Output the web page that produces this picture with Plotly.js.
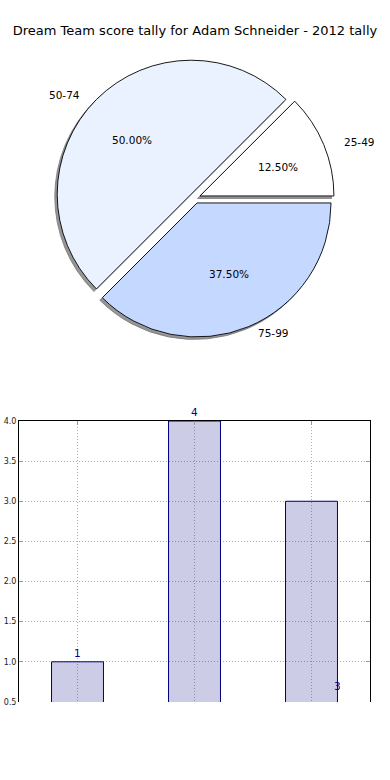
<!DOCTYPE html>
<html>
<head>
<meta charset="utf-8">
<script src="https://cdn.plot.ly/plotly-3.0.1.min.js"></script>
<style>html,body{margin:0;padding:0;background:#fff;}#chart{width:390px;height:780px;}</style>
</head>
<body>
<div id="chart"></div>
<script>
// ---- data ----
var categories = ['25-49', '50-74', '75-99'];
var counts = [1, 4, 3];
var sliceColors = ['#ffffff', '#eaf1ff', '#c5d8ff'];
var chartTitle = 'Dream Team score tally for Adam Schneider - 2012 tally';

// ---- geometry helpers (pixels) ----
var W = 390, H = 780;
var FONT = 'DejaVu Sans, sans-serif';
var cx = 195, cy = 198, rPie = 134, pull = 0.04;
var rx = 140, ry = 128;
var side = 2 * rPie * (1 + pull);
function px(x) { return x / W; }
function py(y) { return 1 - y / H; }

var total = counts.reduce(function (a, b) { return a + b; }, 0);
var pulls = counts.map(function () { return pull; });
// first slice starts at 3 o'clock and runs counterclockwise
var rot = 90 - 360 * counts[0] / total;

var pieDomain = {x: [px(cx - side / 2), px(cx + side / 2)], y: [py(cy + side / 2), py(cy - side / 2)]};
var sh = 2.5;
var shadowDomain = {x: [px(cx - side / 2 - sh), px(cx + side / 2 - sh)], y: [py(cy + side / 2 + sh), py(cy - side / 2 + sh)]};

var shadow = {
  type: 'pie', values: counts, labels: categories, sort: false,
  direction: 'counterclockwise', rotation: rot, pull: pulls,
  marker: {colors: counts.map(function () { return 'rgb(150,150,150)'; }), line: {color: 'rgb(120,120,120)', width: 0.8}},
  textinfo: 'none', hoverinfo: 'skip', showlegend: false, domain: shadowDomain
};
var pie = {
  type: 'pie', values: counts, labels: categories, sort: false,
  direction: 'counterclockwise', rotation: rot, pull: pulls,
  marker: {colors: sliceColors, line: {color: '#000000', width: 0.9}},
  textinfo: 'none', hoverinfo: 'label+percent', showlegend: false, domain: pieDomain
};

var annotations = [];
var cum = 0;
counts.forEach(function (v, i) {
  var th = 2 * Math.PI * (cum + v / 2) / total;
  cum += v;
  var c = Math.cos(th), s = Math.sin(th);
  var lx = cx + (1.1 + pull) * rx * c, ly = cy - (1.1 + pull) * ry * s;
  annotations.push({xref: 'paper', yref: 'paper', x: px(lx), y: py(ly), text: categories[i],
    showarrow: false, xanchor: c < 0 ? 'right' : 'left', yanchor: 'middle',
    font: {family: FONT, size: 10.5, color: '#000'}});
  var tx = cx + (0.6 + pull) * rx * c, ty = cy - (0.6 + pull) * ry * s;
  annotations.push({xref: 'paper', yref: 'paper', x: px(tx), y: py(ty),
    text: (v / total * 100).toFixed(2) + '%', showarrow: false, xanchor: 'center', yanchor: 'middle',
    font: {family: FONT, size: 10.5, color: '#000'}});
});

// bar value labels
var barLabelFont = {family: FONT, size: 10.5, color: '#00008b'};
annotations.push({xref: 'x', yref: 'y', x: categories[0], y: counts[0], text: String(counts[0]), showarrow: false, yanchor: 'bottom', yshift: 1, font: barLabelFont});
annotations.push({xref: 'x', yref: 'y', x: categories[1], y: counts[1], text: String(counts[1]), showarrow: false, yanchor: 'bottom', yshift: 1, font: barLabelFont});
annotations.push({xref: 'x', yref: 'y', x: 2.226, y: 0.7, text: String(counts[2]), showarrow: false, xanchor: 'center', yanchor: 'middle', font: barLabelFont});

var bars = {
  type: 'bar', x: categories, y: counts, width: 0.444,
  marker: {color: 'rgba(0,0,128,0.2)', line: {color: '#000080', width: 1}},
  showlegend: false, hoverinfo: 'x+y'
};

var layout = {
  width: W, height: H,
  margin: {l: 0, r: 0, t: 0, b: 0},
  paper_bgcolor: '#ffffff', plot_bgcolor: '#ffffff',
  font: {family: FONT},
  title: {text: chartTitle, x: 0.5, xanchor: 'center', y: py(30), yref: 'container', yanchor: 'middle',
    font: {family: FONT, size: 13, color: '#000'}},
  xaxis: {
    domain: [px(19), px(370)], type: 'category', range: [-0.5, 2.5],
    side: 'top', showline: true, linecolor: '#000', linewidth: 1,
    showticklabels: false, ticks: 'inside', ticklen: 4, tickcolor: '#999',
    showgrid: true, gridcolor: '#b0b0b0', griddash: '1px,2px', gridwidth: 1, zeroline: false, fixedrange: true
  },
  yaxis: {
    domain: [py(702), py(421)], range: [0.499, 4.0], dtick: 0.5, tick0: 0.5, tickformat: '.1f',
    showline: true, mirror: 'ticks', linecolor: '#000', linewidth: 1,
    ticks: 'inside', ticklen: 4, tickcolor: '#999',
    tickfont: {family: FONT, size: 8, color: '#222'},
    showgrid: true, gridcolor: '#b0b0b0', griddash: '1px,2px', gridwidth: 1, zeroline: false, fixedrange: true
  },
  annotations: annotations
};

Plotly.newPlot('chart', [shadow, pie, bars], layout, {displayModeBar: false, staticPlot: true});
</script>
</body>
</html>
